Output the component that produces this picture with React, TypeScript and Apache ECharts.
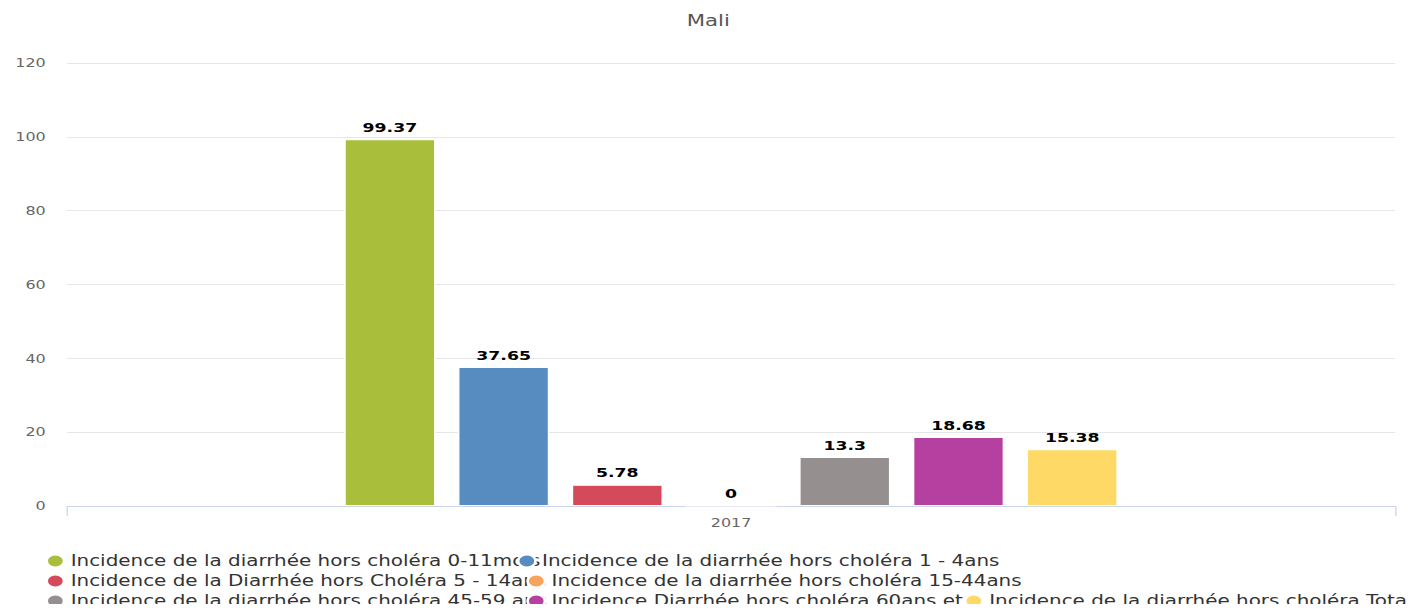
import React, { useEffect, useRef } from "react";
import * as echarts from "echarts";

const categories = ["2017"];
const seriesNames = [
  "Incidence de la diarrhée hors choléra 0-11mois",
  "Incidence de la diarrhée hors choléra 1 - 4ans",
  "Incidence de la Diarrhée hors Choléra 5 - 14ans",
  "Incidence de la diarrhée hors choléra 15-44ans",
  "Incidence de la diarrhée hors choléra 45-59 ans",
  "Incidence Diarrhée hors choléra 60ans et+",
  "Incidence de la diarrhée hors choléra Total",
];
const seriesValues = [[99.37], [37.65], [5.78], [0], [13.3], [18.68], [15.38]];
const seriesColors = ["#A9BF3B", "#568CC0", "#D44A5A", "#F7A35C", "#958F8F", "#B5409F", "#FED966"];
const yTickValues = [0, 20, 40, 60, 80, 100, 120];

// horizontal stretch of the reference picture
const SX = 1.33;
const W = 1053;
const H = 604;
// legend positions (left of icon, top of item), in chart units
const legendPos = [
  [28.1, 545], [382.6, 545],
  [28.1, 565], [389.7, 565],
  [28.1, 585], [389.7, 585], [718.7, 585],
];

const FONT = "DejaVu Sans";

export default function App() {
  const ref = useRef<HTMLDivElement>(null);
  useEffect(() => {
    if (!ref.current) return;
    const chart = echarts.init(ref.current, undefined, { renderer: "svg" });
    chart.setOption({
      animation: false,
      title: {
        text: "Mali",
        left: "center",
        top: 4,
        padding: 0,
        textStyle: { fontFamily: FONT, fontSize: 16, fontWeight: "normal", color: "#555" },
      },
      legend: seriesNames.map((n, i) => ({
        data: [n],
        left: legendPos[i][0],
        top: legendPos[i][1],
        icon: "circle",
        itemWidth: 13,
        itemHeight: 13,
        padding: 0,
        textStyle: { fontFamily: FONT, fontSize: 15, lineHeight: 16, color: "#333" },
      })),
      grid: { left: 44.4, right: 10.1, top: 55, bottom: 106 },
      xAxis: {
        type: "category",
        data: categories,
        axisLine: { lineStyle: { color: "#ccd6eb" } },
        axisTick: { show: true, length: 10, lineStyle: { color: "#ccd6eb" } },
        axisLabel: { fontFamily: FONT, fontSize: 12, color: "#666", margin: 11 },
      },
      yAxis: {
        type: "value",
        min: yTickValues[0],
        max: yTickValues[yTickValues.length - 1],
        interval: yTickValues[1] - yTickValues[0],
        axisLine: { show: false },
        axisTick: { show: false },
        splitLine: { lineStyle: { color: "#e6e6e6" } },
        axisLabel: { fontFamily: FONT, fontSize: 12, color: "#666", margin: 16 },
      },
      series: seriesNames.map((n, i) => ({
        name: n,
        type: "bar",
        data: seriesValues[i],
        barWidth: 68.4,
        barGap: "25%",
        itemStyle: { color: seriesColors[i], borderColor: "#fff", borderWidth: 1 },
        label: {
          show: true,
          position: "top",
          distance: 5,
          fontFamily: FONT,
          fontSize: 13,
          fontWeight: "bold",
          color: "#000",
        },
      })),
    });
    return () => chart.dispose();
  }, []);
  return (
    <div style={{ width: 1400, height: H, overflow: "hidden", marginBottom: -8 }}>
      <div
        ref={ref}
        style={{ width: W, height: H, transform: `scaleX(${SX})`, transformOrigin: "0 0" }}
      />
    </div>
  );
}
